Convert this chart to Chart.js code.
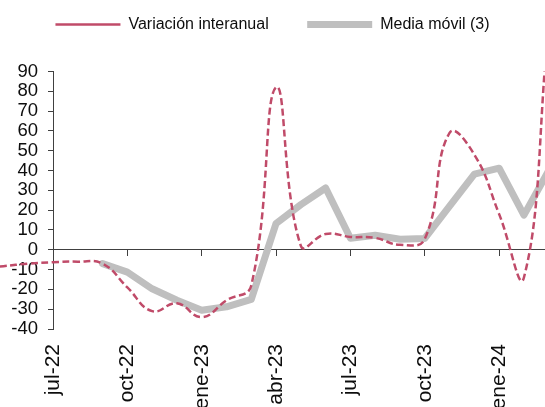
<!DOCTYPE html>
<html>
<head>
<meta charset="utf-8">
<script src="https://cdn.jsdelivr.net/npm/chart.js@4.4.1/dist/chart.umd.min.js"></script>
<style>
  html, body { margin: 0; padding: 0; background: #fff; }
  #wrap { width: 545px; height: 407px; }
</style>
</head>
<body>
<div id="wrap"><canvas id="myChart"></canvas></div>
<script>
// meses (el gráfico original empieza cortado antes de jul-22)
const meses = [
  'abr-22', 'may-22', 'jun-22', 'jul-22', 'ago-22', 'sep-22',
  'oct-22', 'nov-22', 'dic-22', 'ene-23', 'feb-23', 'mar-23',
  'abr-23', 'may-23', 'jun-23', 'jul-23', 'ago-23', 'sep-23',
  'oct-23', 'nov-23', 'dic-23', 'ene-24', 'feb-24', 'mar-24'
];
const variacion = [
  -9.5, -8.3, -7, -6.3, -6, -7,
  -19, -31, -27, -34, -25.5, -18,
  82, 2, 8, 6.5, 6, 2.5,
  5.5, 59, 48, 18, -14, 115
];
const mediaMovil = [
  null, null, null, null, null, -7,
  -11.3, -19.7, -25.5, -30.5, -28.8, -25,
  13.3, 22.8, 31.2, 5.8, 7.3, 5.3,
  5.7, 22, 38.2, 41.2, 17.5, 40
];
const nombres = ['Variación interanual', 'Media móvil (3)'];

const primerMes = meses.indexOf('jul-22');
const xMin = 0, xMax = 19.85, xPaso = 3;
const yMin = -40, yMax = 90, yPaso = 10;

const fuente = 'Liberation Sans, Arial, sans-serif';
const colorEje = '#404040';

function puntos(valores) {
  return valores.map((v, i) => ({ x: i - primerMes, y: v }));
}

// rango fijo sin que cuente como min/max de usuario (asi se dibujan los meses anteriores)
function fijarRangoX(scale) {
  scale.min = xMin;
  scale.max = xMax;
}

// solo un tick cada trimestre, nada en el borde
function ticksTrimestre(scale) {
  scale.ticks = scale.ticks.filter(t => t.value % xPaso === 0 && t.value <= xMax);
}

// espacio extra entre la leyenda y el grafico
const margenLeyenda = {
  id: 'margenLeyenda',
  beforeInit(chart) {
    const fitOriginal = chart.legend.fit;
    chart.legend.fit = function () {
      fitOriginal.call(this);
      this.height += 29;
    };
  }
};

const recorte = { left: false, right: false, top: 0, bottom: 0 };

const config = {
  type: 'line',
  data: {
    datasets: [{
      label: nombres[0],
      data: puntos(variacion),
      borderColor: '#C04B69',
      backgroundColor: '#C04B69',
      borderWidth: 2.5,
      borderDash: [7, 3.5],
      tension: 0.45,
      pointRadius: 0,
      clip: recorte
    }, {
      label: nombres[1],
      data: puntos(mediaMovil),
      borderColor: '#BFBFBF',
      backgroundColor: '#BFBFBF',
      borderWidth: 7,
      borderCapStyle: 'round',
      borderJoinStyle: 'round',
      tension: 0,
      pointRadius: 0,
      clip: recorte
    }]
  },
  options: {
    animation: false,
    responsive: true,
    maintainAspectRatio: false,
    devicePixelRatio: 1,
    layout: { padding: { top: -22, left: 0, right: 0, bottom: 0 } },
    plugins: {
      tooltip: { enabled: false },
      legend: {
        position: 'top',
        labels: {
          usePointStyle: true,
          pointStyle: 'line',
          pointStyleWidth: 65,
          padding: 38.5,
          color: '#0d0d0d',
          font: { family: fuente, size: 16 }
        }
      }
    },
    scales: {
      x: {
        type: 'linear',
        position: { y: 0 },
        bounds: 'data',
        afterDataLimits: fijarRangoX,
        afterBuildTicks: ticksTrimestre,
        grid: { drawOnChartArea: false, drawTicks: true, tickLength: 6, color: colorEje },
        border: { color: colorEje, width: 1 },
        ticks: { display: false, stepSize: xPaso }
      },
      xEtiquetas: {
        type: 'linear',
        axis: 'x',
        position: 'bottom',
        bounds: 'data',
        afterDataLimits: fijarRangoX,
        afterBuildTicks: ticksTrimestre,
        afterFit: (scale) => { scale.height = 78; },
        grid: { display: false, drawTicks: false },
        border: { display: false },
        ticks: {
          stepSize: xPaso,
          autoSkip: false,
          minRotation: 90,
          maxRotation: 90,
          padding: 15,
          color: '#0d0d0d',
          font: { family: fuente, size: 21 },
          callback: (v) => meses[v + primerMes] || ''
        }
      },
      y: {
        position: 'left',
        min: yMin,
        max: yMax,
        afterFit: (scale) => { scale.width = 53; },
        grid: { drawOnChartArea: false, tickLength: 5, color: colorEje },
        border: { color: colorEje, width: 1 },
        ticks: {
          stepSize: yPaso,
          autoSkip: false,
          padding: 10,
          color: '#0d0d0d',
          font: { family: fuente, size: 18.5 }
        }
      }
    }
  },
  plugins: [margenLeyenda]
};

const myChart = new Chart(document.getElementById('myChart'), config);
</script>
</body>
</html>
